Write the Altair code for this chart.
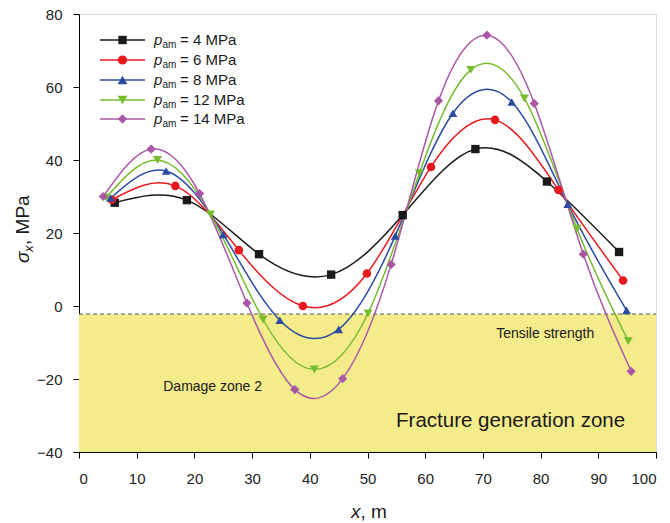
import altair as alt
import pandas as pd

# Stress profiles sigma_x along x for several p_am values
x_4 = [6.2, 18.7, 31.2, 43.7, 56.1, 68.7, 81.1, 93.6]
s_4 = [28.3, 29.0, 14.2, 8.6, 24.9, 43.0, 34.1, 14.8]

x_6 = [5.7, 16.7, 27.7, 38.8, 49.9, 61.0, 72.1, 83.1, 94.3]
s_6 = [29.1, 32.9, 15.3, 0.0, 8.9, 38.1, 51.0, 31.8, 7.0]

x_8 = [5.5, 15.1, 25.0, 34.8, 45.0, 54.8, 64.8, 75.0, 84.7, 94.9]
s_8 = [29.6, 37.0, 19.6, -3.9, -6.4, 19.2, 52.8, 55.9, 27.9, -1.2]

x_12 = [4.7, 13.6, 22.8, 31.9, 40.8, 50.1, 59.0, 67.9, 77.2, 86.3, 95.2]
s_12 = [29.7, 40.0, 25.1, -3.7, -17.4, -2.0, 36.4, 64.7, 56.9, 21.2, -9.6]

x_14 = [4.2, 12.5, 20.9, 29.1, 37.4, 45.7, 54.1, 62.3, 70.7, 78.9, 87.4, 95.7]
s_14 = [30.0, 43.0, 30.8, 0.8, -22.9, -19.9, 11.4, 56.2, 74.2, 55.5, 14.2, -17.9]

pressures = [4, 6, 8, 12, 14]
series_labels = [f"p_am = {p} MPa" for p in pressures]
colors = ["#1a1a1a", "#e8191e", "#2b4ba0", "#76bc2f", "#a958a6"]
shapes = ["square", "circle", "triangle-up", "triangle-down", "diamond"]
marker_sizes = [70, 85, 95, 95, 90]

tensile_strength = -2.2
y_floor = -40

FONT = "Liberation Sans"

rows = []
for lab, xs, ss in zip(series_labels,
                       [x_4, x_6, x_8, x_12, x_14],
                       [s_4, s_6, s_8, s_12, s_14]):
    for xv, sv in zip(xs, ss):
        rows.append({"series": lab, "x": xv, "s": sv})
df = pd.DataFrame(rows)

xscale = alt.Scale(domain=[0, 100], nice=False, zero=False)
yscale = alt.Scale(domain=[-40, 80], nice=False, zero=False)
cscale = alt.Scale(domain=series_labels, range=colors)
shscale = alt.Scale(domain=series_labels, range=shapes)
szscale = alt.Scale(domain=series_labels, range=marker_sizes)

x_axis = alt.Axis(
    values=list(range(0, 101, 5)),
    labelExpr="datum.value % 10 === 0 ? datum.label : ''",
    tickSize={"condition": {"test": "datum.value % 10 !== 0", "value": 3}, "value": 6},
    title=None, grid=False, domainColor="black", tickColor="black",
    labelFont=FONT, labelFontSize=15, labelColor="#222", labelPadding=13,
)
y_axis = alt.Axis(
    values=list(range(-40, 81, 10)),
    labelExpr="datum.value % 20 === 0 ? datum.label : ''",
    tickSize={"condition": {"test": "datum.value % 20 !== 0", "value": 3}, "value": 6},
    title=None, grid=False, domainColor="black", tickColor="black",
    labelFont=FONT, labelFontSize=15, labelColor="#222", labelPadding=11,
)

# Fracture generation zone below the tensile strength
zone_df = pd.DataFrame({"x0": [0], "x1": [100], "y0": [y_floor], "y1": [tensile_strength]})
zone = alt.Chart(zone_df).mark_rect(color="#f4eb8b").encode(
    x=alt.X("x0:Q", scale=xscale, axis=x_axis),
    x2="x1:Q",
    y=alt.Y("y0:Q", scale=yscale, axis=y_axis),
    y2="y1:Q",
)
tensile_line = alt.Chart(zone_df).mark_rule(
    color="#555555", strokeDash=[4, 3], strokeWidth=1
).encode(x="x0:Q", x2="x1:Q", y="y1:Q")

lines = alt.Chart(df).mark_line(interpolate="natural", strokeWidth=1.5).encode(
    x=alt.X("x:Q", scale=xscale),
    y=alt.Y("s:Q", scale=yscale),
    color=alt.Color("series:N", scale=cscale, legend=None),
    detail="series:N",
)
points = alt.Chart(df).mark_point(filled=True, opacity=1).encode(
    x=alt.X("x:Q", scale=xscale),
    y=alt.Y("s:Q", scale=yscale),
    color=alt.Color("series:N", scale=cscale, legend=None),
    shape=alt.Shape("series:N", scale=shscale, legend=None),
    size=alt.Size("series:N", scale=szscale, legend=None),
)

notes_df = pd.DataFrame({
    "x": [80.8, 14.6, 74.8],
    "y": [-7.7, -22.2, -31.5],
    "t": ["Tensile strength", "Damage zone 2", "Fracture generation zone"],
    "size": [14, 14, 20.5],
    "align": ["center", "left", "center"],
})
note_layers = []
for _, r in notes_df.iterrows():
    note_layers.append(
        alt.Chart(pd.DataFrame([r])).mark_text(
            font=FONT, fontSize=float(r["size"]), color="#1a1a1a",
            align=r["align"], baseline="middle",
        ).encode(x="x:Q", y="y:Q", text="t:N")
    )

# Legend drawn as line + marker + label rows (positions relative to plot origin)
legend_layers = []
row_y = [26, 46, 66, 86, 105]
for lab, p, col, shp, msz, ry in zip(series_labels, pressures, colors, shapes, marker_sizes, row_y):
    one = pd.DataFrame({"series": [lab]})
    base = alt.Chart(one)
    legend_layers.append(base.mark_rule(color=col, strokeWidth=1.5).encode(
        x=alt.value(21), x2=alt.value(66), y=alt.value(ry)))
    legend_layers.append(base.mark_point(filled=True, size=msz, color=col, shape=shp, opacity=1).encode(
        x=alt.value(43.5), y=alt.value(ry)))
    legend_layers.append(base.mark_text(font=FONT, fontSize=15, fontStyle="italic",
                                        align="left", baseline="alphabetic", color="#1a1a1a",
                                        text="p").encode(x=alt.value(75), y=alt.value(ry + 5)))
    legend_layers.append(base.mark_text(font=FONT, fontSize=10, align="left",
                                        baseline="alphabetic", color="#1a1a1a",
                                        text="am").encode(x=alt.value(83.5), y=alt.value(ry + 8)))
    legend_layers.append(base.mark_text(font=FONT, fontSize=15, align="left",
                                        baseline="alphabetic", color="#1a1a1a",
                                        text=f"= {p} MPa").encode(x=alt.value(101), y=alt.value(ry + 5)))

# Axis titles with italic symbols
title_df = pd.DataFrame({"k": [0]})
tb = alt.Chart(title_df)
title_layers = [
    tb.mark_text(font=FONT, fontSize=19, fontStyle="italic", align="left",
                 baseline="alphabetic", color="#1a1a1a", text="x").encode(
        x=alt.value(272), y=alt.value(504)),
    tb.mark_text(font=FONT, fontSize=19, align="left",
                 baseline="alphabetic", color="#1a1a1a", text=", m").encode(
        x=alt.value(281.5), y=alt.value(504)),
    tb.mark_text(font=FONT, fontSize=19, fontStyle="italic", align="left", angle=270,
                 baseline="alphabetic", color="#1a1a1a", text="\u03c3").encode(
        x=alt.value(-50), y=alt.value(249)),
    tb.mark_text(font=FONT, fontSize=13, fontStyle="italic", align="left", angle=270,
                 baseline="alphabetic", color="#1a1a1a", text="x").encode(
        x=alt.value(-46), y=alt.value(238)),
    tb.mark_text(font=FONT, fontSize=19, align="left", angle=270,
                 baseline="alphabetic", color="#1a1a1a", text=", MPa").encode(
        x=alt.value(-50), y=alt.value(231)),
]

chart = alt.layer(
    zone, tensile_line, lines, points, *note_layers, *legend_layers, *title_layers
).properties(
    width=577, height=438,
    padding={"left": 79, "top": 14, "right": 14, "bottom": 71},
    autosize=alt.AutoSizeParams(type="none"),
).configure_view(stroke="#1a1a1a", strokeWidth=1.2).configure(background="white")

chart.save("out.html", embed_options={"renderer": "svg", "actions": False})
